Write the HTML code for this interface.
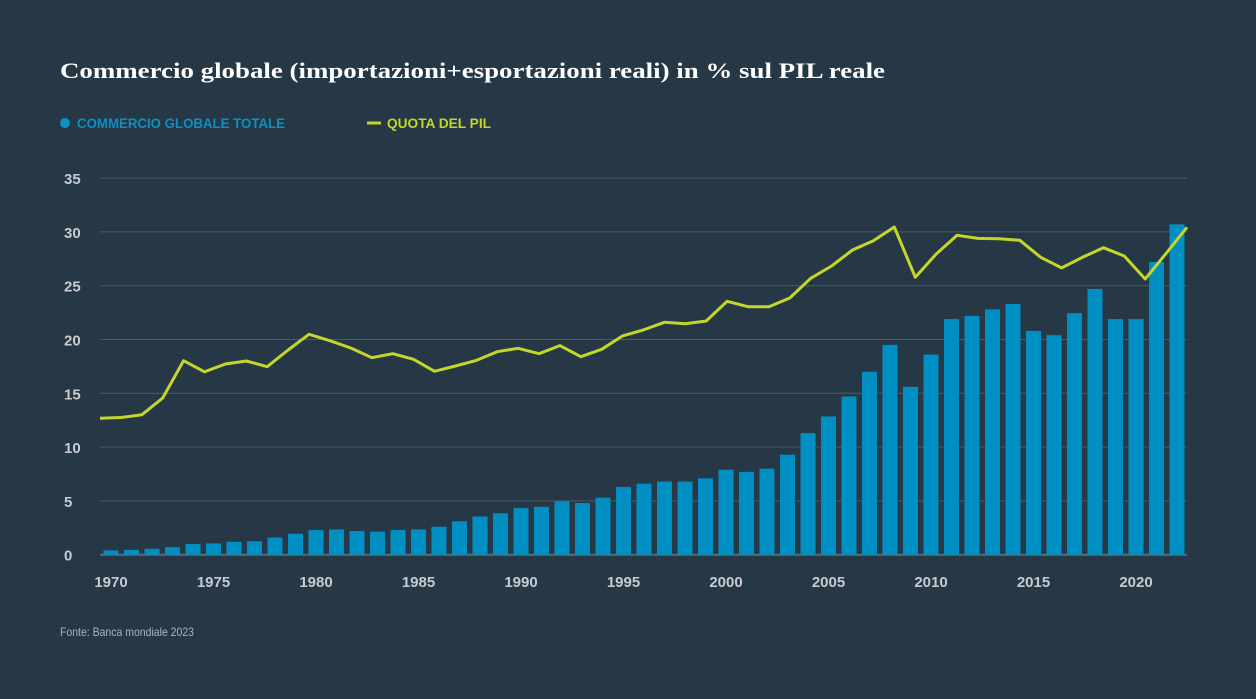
<!DOCTYPE html>
<html><head><meta charset="utf-8"><style>
html,body{margin:0;padding:0;background:#263746;}
svg{display:block;}
</style></head><body>
<svg id="chart" width="1256" height="699" viewBox="0 0 1256 699" xmlns="http://www.w3.org/2000/svg">
<rect width="1256" height="699" fill="#263746"/>
<text x="60" y="78" font-family="Liberation Serif, serif" font-weight="bold" font-size="22" fill="#ffffff" textLength="825" lengthAdjust="spacingAndGlyphs">Commercio globale (importazioni+esportazioni reali) in % sul PIL reale</text>
<g>
<circle cx="65" cy="123" r="5" fill="#0e90c4"/>
<text x="77" y="128" font-family="Liberation Sans, sans-serif" font-weight="bold" font-size="14" fill="#0e90c4" textLength="208" lengthAdjust="spacingAndGlyphs">COMMERCIO GLOBALE TOTALE</text>
<line x1="367" y1="123" x2="381" y2="123" stroke="#c5d62a" stroke-width="3"/>
<text x="387" y="128" font-family="Liberation Sans, sans-serif" font-weight="bold" font-size="14" fill="#c5d62a" textLength="104" lengthAdjust="spacingAndGlyphs">QUOTA DEL PIL</text>
</g>
<g id="grid"></g>
<g id="bars"></g>
<g id="line"></g>
<g id="xaxis"></g>
<text x="60" y="636" font-family="Liberation Sans Narrow, Liberation Sans, sans-serif" font-size="12" fill="#aab4bd" textLength="134" lengthAdjust="spacingAndGlyphs">Fonte: Banca mondiale 2023</text>
</svg>
<script>
const years = [];
for (let y = 1970; y <= 2022; y++) years.push(y);
const tradeValues = [0.4,0.45,0.55,0.7,1.0,1.05,1.2,1.25,1.6,1.95,2.3,2.35,2.2,2.15,2.3,2.35,2.6,3.1,3.55,3.85,4.35,4.45,4.95,4.8,5.3,6.3,6.6,6.8,6.8,7.1,7.9,7.7,8.0,9.3,11.3,12.85,14.7,17.0,19.5,15.6,18.6,21.9,22.2,22.8,23.3,20.8,20.4,22.45,24.7,21.9,21.9,27.2,30.7];
const gdpShare = [12.68,12.75,13.0,14.56,18.03,17.0,17.72,18.0,17.47,19.02,20.48,19.89,19.21,18.31,18.68,18.16,17.04,17.54,18.06,18.87,19.18,18.68,19.43,18.4,19.09,20.33,20.89,21.6,21.47,21.72,23.55,23.05,23.05,23.86,25.69,26.83,28.32,29.18,30.46,25.78,27.95,29.68,29.4,29.37,29.22,27.64,26.65,27.64,28.53,27.76,25.62,28.0,30.43];
const yTicks = [0,5,10,15,20,25,30,35];
const xTickYears = [1970,1975,1980,1985,1990,1995,2000,2005,2010,2015,2020];

const NS = 'http://www.w3.org/2000/svg';
const plotL = 100, plotR = 1187, y0 = 554.7, pxPerUnit = 10.76;
const barFirst = 111, barLast = 1177, barW = 15;
const yScale = v => y0 - v * pxPerUnit;
const xBar = i => barFirst + i * (barLast - barFirst) / (years.length - 1);
const xLine = i => plotL + i * (plotR - plotL) / (gdpShare.length - 1);
const xYear = yr => xBar(years.indexOf(yr));
function mk(tag, attrs, parent) {
  const e = document.createElementNS(NS, tag);
  for (const k in attrs) e.setAttribute(k, attrs[k]);
  parent.appendChild(e);
  return e;
}
const grid = document.getElementById('grid');
yTicks.forEach(t => {
  const l = mk('line', {x1: plotL, x2: plotR, y1: yScale(t), y2: yScale(t), stroke: t === 0 ? '#5a6a78' : '#4a5a68', 'stroke-width': t === 0 ? 2 : 1}, grid);
  
  
  const tx = mk('text', {x: 64, y: yScale(t) + 6, 'font-family': 'Liberation Sans, sans-serif', 'font-weight': 'bold', 'font-size': 15, fill: '#c6cbd0'}, grid);
  tx.textContent = t;
  
  
});
const bars = document.getElementById('bars');
tradeValues.forEach((v, i) => {
  const r = mk('rect', {x: xBar(i) - barW / 2, y: yScale(v), width: barW, height: y0 - yScale(v), fill: '#008fc2'}, bars);
  
  
});
const pts = gdpShare.map((v, i) => xLine(i).toFixed(1) + ',' + yScale(v).toFixed(1)).join(' ');
const pl = mk('polyline', {points: pts, fill: 'none', stroke: '#c5d62a', 'stroke-width': 3, 'stroke-linejoin': 'round'}, document.getElementById('line'));


const xa = document.getElementById('xaxis');
xTickYears.forEach(yr => {
  const tx = mk('text', {x: xYear(yr), y: 587, 'text-anchor': 'middle', 'font-family': 'Liberation Sans, sans-serif', 'font-weight': 'bold', 'font-size': 15, fill: '#c6cbd0'}, xa);
  tx.textContent = yr;
  
  
});
</script>
</body></html>
